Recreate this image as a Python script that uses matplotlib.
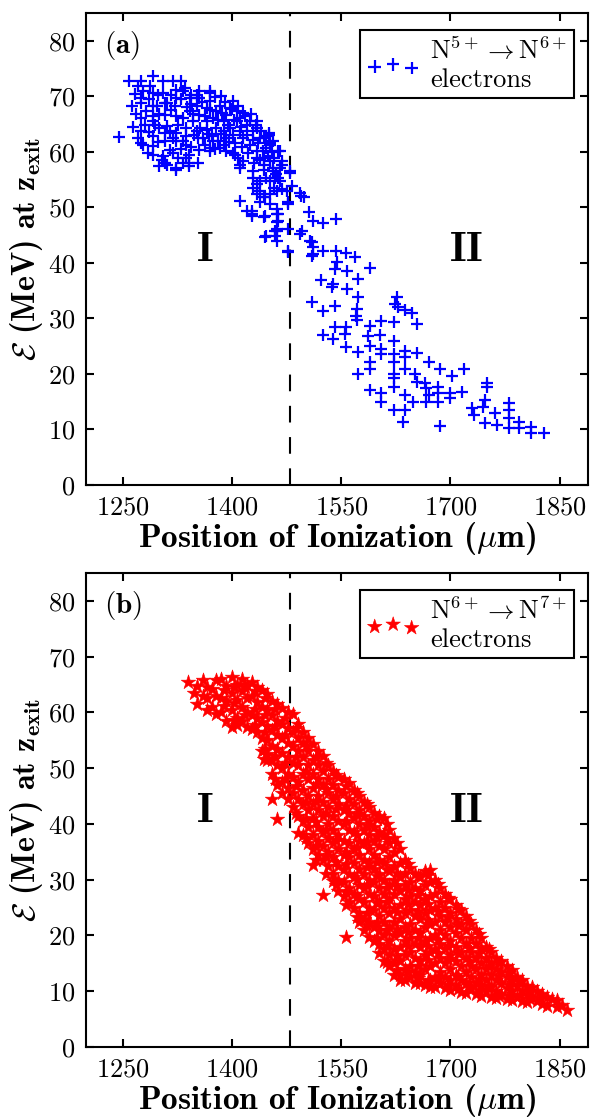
import matplotlib
matplotlib.use("Agg")
import matplotlib.pyplot as plt

plt.rcParams.update({
    "font.family": "serif",
    "font.serif": ["cmr10"],
    "mathtext.fontset": "cm",
    "axes.formatter.use_mathtext": True,
    "axes.unicode_minus": False,
})

# ---------------- data ----------------
xticks = [1250, 1400, 1550, 1700, 1850]
yticks = [0, 10, 20, 30, 40, 50, 60, 70, 80]
boundary_x = 1480

# Panel (a): N5+ -> N6+ electrons (position um, energy MeV)
a_region2 = [
    (1505,49.1),(1511,47.6),(1525,47.1),(1543,47.9),(1496,45.8),(1493,45.2),(1477,41.9),(1509,43.7),
    (1511,42.8),(1509,41.3),(1525,42.2),(1543,42.2),(1557,41.7),(1569,41.0),(1544,40.1),(1541,38.9),
    (1558,38.6),(1590,39.0),(1522,36.9),(1539,36.2),(1537,35.7),(1558,35.3),(1573,37.1),(1573,33.8),
    (1509,32.9),(1525,31.4),(1541,32.3),(1571,31.7),(1570,30.5),(1572,29.7),(1626,33.8),(1624,32.6),
    (1628,32.1),(1638,31.5),(1647,30.9),(1654,29.0),(1605,29.6),(1622,29.3),(1590,28.7),(1603,27.1),
    (1587,26.9),(1557,28.4),(1555,27.2),(1541,28.4),(1539,26.3),(1525,27.1),(1557,24.8),(1573,23.9),
    (1590,25.1),(1605,24.5),(1605,23.6),(1622,26.0),(1622,23.6),(1622,22.1),(1638,24.2),(1638,23.0),
    (1638,20.9),(1654,23.7),(1590,22.1),(1590,20.8),(1573,20.0),(1622,20.0),(1622,19.2),(1622,17.6),
    (1651,20.0),(1654,18.5),(1665,18.3),(1670,22.1),(1686,20.9),(1702,19.6),(1718,20.8),(1667,17.4),
    (1670,16.2),(1667,15.0),(1683,17.6),(1683,16.5),(1683,15.0),(1699,16.5),(1699,15.6),(1716,16.7),
    (1590,17.1),(1605,16.5),(1605,15.0),(1638,16.2),(1649,15.0),(1622,13.5),(1638,13.5),(1635,11.4),
    (1685,10.6),(1750,18.3),(1750,17.6),(1748,15.3),(1745,14.1),(1729,13.8),(1732,12.6),(1748,11.2),
    (1761,12.9),(1764,10.8),(1780,14.7),(1780,13.5),(1780,12.0),(1780,10.2),(1794,11.4),(1794,10.2),
    (1810,10.5),(1810,9.3),(1828,9.4),
]
a_boundary = [
    (1457,53.5),(1475,53.0),(1495,52.1),(1461,48.8),(1461,47.3),(1461,45.8),(1459,44.9),(1477,50.9),
    (1450,63.1),(1452,61.6),(1463,60.1),(1479,56.5),(1477,50.6),(1493,52.6),(1498,51.9),(1507,44.0),
    (1511,41.6),(1410,51.2),(1427,49.4),(1427,48.5),(1445,48.5),(1447,44.9),(1461,49.7),(1463,48.8),
    (1463,47.6),(1461,46.1),(1429,53.5),(1434,52.4),(1438,50.9),(1445,51.8),(1452,52.4),(1468,53.3),
    (1463,55.3),(1466,57.1),(1468,58.3),(1408,58.9),(1410,57.7),(1401,59.8),(1388,61.3),(1429,56.5),
    (1438,54.7),(1452,54.7),(1456,56.5),(1443,57.7),(1434,58.9),(1420,49.4),(1427,48.8),(1443,48.2),
    (1445,44.6),(1459,45.8),(1461,44.0),(1477,46.1),(1477,42.2),(1466,60.1),(1468,57.7),(1479,56.2),
    (1482,53.8),(1404,59.5),(1415,58.3),(1410,57.1),(1429,55.3),(1434,54.2),(1438,53.0),(1443,51.8),
    (1452,50.6),(1461,53.0),(1466,54.7),(1459,55.3),(1447,55.3),
]
a_region1 = [
    (1258,72.8),(1275,72.8),(1291,73.6),(1305,72.7),(1319,72.7),(1330,72.8),(1271,71.8),(1287,71.8),
    (1278,70.9),(1291,70.6),(1275,69.7),(1275,68.8),(1305,70.6),(1323,71.2),(1335,71.5),(1344,70.3),
    (1355,69.7),(1369,70.6),(1291,68.3),(1307,68.8),(1321,68.3),(1275,66.1),(1291,66.4),(1307,66.7),
    (1323,66.4),(1280,64.9),(1294,64.9),(1310,64.6),(1326,64.9),(1244,62.6),(1275,63.7),(1275,61.6),
    (1291,62.8),(1291,61.0),(1307,63.4),(1307,61.9),(1323,63.4),(1323,61.9),(1291,59.5),(1305,59.2),
    (1307,58.0),(1326,58.9),(1340,59.5),(1340,58.0),(1323,57.1),(1337,61.3),(1355,60.4),(1369,60.7),
    (1353,62.5),(1355,70.9),(1369,70.9),(1385,70.0),(1401,69.1),(1415,67.0),(1434,65.5),(1450,63.4),
    (1310,57.7),(1323,56.8),(1340,57.4),(1353,58.0),(1337,58.9),(1278,61.3),(1303,58.6),(1369,60.1),
    (1392,62.5),(1415,62.5),(1424,61.3),(1434,60.1),(1443,58.9),(1452,61.3),(1443,62.5),(1429,63.7),
    (1420,64.9),(1406,65.5),(1397,64.3),(1388,63.7),(1378,64.3),(1365,65.5),(1355,66.7),(1342,67.3),
    (1333,66.1),(1314,63.7),(1300,64.3),(1291,65.5),(1282,67.3),(1296,68.3),(1310,68.8),(1323,69.7),
    (1342,69.7),(1351,68.3),(1365,67.9),(1378,67.3),(1392,66.7),(1406,67.3),(1369,69.1),(1383,68.3),
    (1397,67.9),(1410,66.1),(1424,65.5),(1434,64.3),(1438,62.5),(1447,60.7),(1452,58.3),(1456,57.1),
    (1374,66.1),(1388,65.5),(1401,63.0),(1410,63.7),(1346,65.5),(1337,64.3),(1351,63.7),(1360,62.5),
    (1374,61.9),(1383,60.7),(1392,60.1),(1333,61.9),(1319,62.5),
]
a_core = [
    (1330,69.5),(1338,68.0),(1346,66.8),(1352,70.2),(1358,68.9),(1362,66.5),(1366,64.0),(1370,67.5),
    (1372,62.8),(1376,69.8),(1380,65.8),(1384,63.2),(1386,67.0),(1390,69.0),(1394,64.8),(1396,61.8),
    (1400,67.8),(1402,65.8),(1404,61.5),(1408,68.3),(1412,64.5),(1414,60.8),(1418,66.5),(1420,63.0),
    (1422,59.8),(1426,66.8),(1428,62.2),(1430,58.0),(1432,64.8),(1436,61.5),(1438,58.5),(1440,63.8),
    (1442,60.2),(1444,56.8),(1446,62.8),(1449,59.2),(1454,60.0),(1456,62.0),(1458,58.8),(1460,56.0),
    (1336,62.8),(1344,60.8),(1348,63.0),(1356,64.3),(1362,61.2),(1368,63.2),(1376,60.5),(1380,62.0),
    (1344,68.6),(1316,67.5),(1300,66.8),(1286,63.5),(1298,61.8),(1314,60.3),(1330,60.5),(1286,69.5),
    (1298,70.3),(1316,70.2),(1332,71.0),(1266,70.5),(1262,68.2),(1268,66.8),(1264,64.5),(1270,62.5),
    (1284,59.8),(1300,57.5),(1318,59.8),(1332,58.0),
]

# Panel (b): N6+ -> N7+ electrons (position um, energy MeV)
b_region1 = [
    (1339,65.5),(1347,63.5),(1352,61.5),(1352,64.8),(1360,63.0),(1360,65.8),(1365,60.5),(1365,62.5),
    (1372,64.2),(1372,61.0),(1378,65.8),(1378,63.0),(1378,59.8),(1385,66.0),(1385,62.5),(1385,60.0),
    (1392,64.8),(1392,62.0),(1392,58.5),(1399,66.3),(1399,63.5),(1399,60.5),(1399,57.4),
    (1406,65.0),(1406,62.2),(1406,59.0),(1406,57.8),(1413,66.0),(1413,63.8),(1413,61.0),(1413,58.5),
    (1420,65.0),(1420,62.5),(1420,60.0),(1420,57.3),(1427,65.4),(1427,63.0),(1427,59.5),(1427,57.0),
    (1434,64.5),(1434,61.8),(1434,59.0),(1434,56.5),(1441,64.0),(1441,61.0),(1441,58.2),(1441,55.5),
    (1441,53.0),(1448,63.3),(1448,60.5),(1448,57.5),(1448,55.0),(1448,52.5),(1448,51.5),
    (1455,62.0),(1455,59.5),(1455,56.8),(1455,54.0),(1455,51.5),(1455,49.0),(1455,44.4),(1461,40.8),
    (1462,61.5),(1462,58.5),(1462,56.0),(1462,53.5),(1462,50.5),(1462,47.0),
    (1469,60.8),(1469,58.0),(1469,55.5),(1469,52.8),(1469,50.0),(1469,47.5),(1469,45.5),
    (1476,60.0),(1476,57.2),(1476,54.5),(1476,52.0),(1476,49.0),(1476,46.5),(1476,44.4),
]
b_region2 = [
    (1483,59.7),(1483,56.5),(1483,54.0),(1483,51.0),(1483,48.5),(1483,45.5),(1483,43.0),
    (1490,58.0),(1490,55.5),(1490,53.0),(1490,50.5),(1490,47.5),(1490,44.5),(1490,41.5),(1490,38.4),
    (1497,56.4),(1497,54.5),(1497,52.0),(1497,49.0),(1497,46.0),(1497,43.5),(1497,40.5),(1497,38.0),
    (1504,55.5),(1504,53.0),(1504,50.5),(1504,48.0),(1504,45.0),(1504,42.5),(1504,39.5),(1504,36.5),
    (1511,54.3),(1511,51.5),(1511,49.0),(1511,46.5),(1511,43.5),(1511,41.0),(1511,38.0),(1511,35.5),
    (1511,32.7),(1518,53.0),(1518,50.5),(1518,48.0),(1518,45.0),(1518,42.5),(1518,39.5),(1518,37.0),
    (1518,34.5),(1525,52.2),(1525,49.5),(1525,47.0),(1525,44.0),(1525,41.5),(1525,38.5),(1525,36.0),
    (1525,33.5),(1525,27.3),(1532,50.5),(1532,48.0),(1532,45.5),(1532,43.0),(1532,40.0),(1532,37.5),
    (1532,35.0),(1532,32.5),(1539,49.5),(1539,47.0),(1539,44.5),(1539,41.5),(1539,39.0),(1539,36.5),
    (1539,34.0),(1539,31.0),(1539,29.7),(1546,48.5),(1546,46.0),(1546,43.5),(1546,40.5),(1546,38.0),
    (1546,35.5),(1546,32.5),(1546,30.0),(1546,28.0),(1553,48.0),(1553,45.5),(1553,42.5),(1553,40.0),
    (1553,37.0),(1553,34.5),(1553,32.0),(1553,29.5),(1553,27.0),(1557,19.8),
    (1560,47.4),(1560,44.5),(1560,42.0),(1560,39.0),(1560,36.5),(1560,34.0),(1560,31.0),(1560,28.5),
    (1560,26.0),(1567,46.0),(1567,43.5),(1567,41.0),(1567,38.5),(1567,35.5),(1567,33.0),(1567,30.5),
    (1567,27.5),(1567,25.0),(1574,45.0),(1574,42.5),(1574,40.0),(1574,37.0),(1574,34.5),(1574,32.0),
    (1574,29.0),(1574,26.5),(1574,24.0),(1574,22.5),(1581,44.0),(1581,41.5),(1581,39.0),(1581,36.5),
    (1581,33.5),(1581,31.0),(1581,28.5),(1581,26.0),(1581,23.0),(1581,21.0),
    (1588,43.0),(1588,40.5),(1588,38.0),(1588,35.5),(1588,33.0),(1588,30.0),(1588,27.5),(1588,25.0),
    (1588,22.5),(1588,19.8),(1595,42.0),(1595,39.5),(1595,37.0),(1595,34.5),(1595,32.0),(1595,29.5),
    (1595,27.0),(1595,24.5),(1595,21.5),(1595,19.0),
    (1602,41.4),(1602,38.5),(1602,36.0),(1602,33.5),(1602,31.0),(1602,28.5),(1602,26.0),(1602,23.5),
    (1602,21.0),(1602,18.5),(1602,16.8),(1609,41.0),(1609,38.0),(1609,35.5),(1609,33.0),(1609,30.0),
    (1609,27.5),(1609,25.0),(1609,22.5),(1609,20.0),(1609,17.5),(1609,15.5),
    (1616,39.0),(1616,36.5),(1616,34.0),(1616,31.5),(1616,29.0),(1616,26.5),(1616,24.0),(1616,21.5),
    (1616,19.0),(1616,16.5),(1616,14.5),(1623,37.5),(1623,35.0),(1623,32.5),(1623,30.0),(1623,27.5),
    (1623,25.0),(1623,22.5),(1623,20.0),(1623,17.5),(1623,15.0),(1623,13.0),
    (1630,35.5),(1630,33.0),(1630,30.5),(1630,28.0),(1630,25.5),(1630,23.0),(1630,20.5),(1630,18.0),
    (1630,15.5),(1630,13.0),(1630,12.0),(1637,33.5),(1637,31.0),(1637,29.0),(1637,26.5),(1637,24.0),
    (1637,21.5),(1637,19.0),(1637,16.5),(1637,14.0),(1637,12.0),
]
b_region3 = [
    (1644,32.1),(1644,29.5),(1644,27.0),(1644,24.5),(1644,22.0),(1644,19.5),(1644,17.0),(1644,14.5),
    (1644,12.5),(1651,31.0),(1651,28.5),(1651,26.0),(1651,23.5),(1651,21.0),(1651,18.5),(1651,16.0),
    (1651,13.5),(1651,11.5),(1658,30.5),(1658,28.0),(1658,25.5),(1658,23.0),(1658,20.5),(1658,18.0),
    (1658,15.5),(1658,13.0),(1658,11.5),(1665,31.5),(1665,29.0),(1665,26.5),(1665,24.0),(1665,21.5),
    (1665,19.0),(1665,16.5),(1665,14.0),(1665,11.2),(1672,31.8),(1672,29.5),(1672,27.0),(1672,24.5),
    (1672,22.0),(1672,19.5),(1672,17.0),(1672,14.5),(1672,12.0),(1672,10.8),
    (1679,30.0),(1679,27.5),(1679,25.0),(1679,22.5),(1679,20.0),(1679,17.5),(1679,15.0),(1679,12.5),
    (1679,10.8),(1686,28.5),(1686,26.0),(1686,23.5),(1686,21.0),(1686,18.5),(1686,16.0),(1686,13.5),
    (1686,11.5),(1693,27.5),(1693,25.0),(1693,22.5),(1693,20.0),(1693,17.5),(1693,15.0),(1693,12.5),
    (1693,10.5),(1700,26.5),(1700,24.0),(1700,21.5),(1700,19.0),(1700,16.5),(1700,14.0),(1700,12.0),
    (1700,10.2),(1707,25.5),(1707,23.0),(1707,20.5),(1707,18.0),(1707,15.5),(1707,13.0),(1707,11.0),
    (1714,24.6),(1714,22.0),(1714,19.5),(1714,17.0),(1714,14.5),(1714,12.0),(1714,9.8),
    (1721,23.5),(1721,21.0),(1721,18.5),(1721,16.0),(1721,13.5),(1721,11.5),(1721,9.6),
    (1728,22.0),(1728,19.5),(1728,17.0),(1728,14.5),(1728,12.5),(1728,10.5),
    (1735,21.0),(1735,18.5),(1735,16.0),(1735,14.0),(1735,11.5),(1735,9.5),
    (1742,19.5),(1742,17.5),(1742,15.0),(1742,13.0),(1742,11.0),(1742,9.2),
    (1749,18.0),(1749,16.0),(1749,14.0),(1749,12.0),(1749,10.0),
    (1756,17.0),(1756,15.0),(1756,13.0),(1756,11.0),(1756,9.0),
    (1763,16.0),(1763,14.0),(1763,12.0),(1763,10.0),(1763,8.8),
    (1770,15.5),(1770,13.5),(1770,11.5),(1770,9.5),(1777,14.5),(1777,12.5),(1777,10.5),(1777,8.6),
    (1784,13.8),(1784,12.0),(1784,10.0),(1784,8.4),(1791,12.5),(1791,11.0),(1791,9.0),
    (1798,12.0),(1798,10.0),(1798,8.3),(1805,11.0),(1805,9.5),(1805,8.0),(1812,10.8),(1812,9.0),
    (1819,10.0),(1819,8.2),(1826,9.5),(1826,7.8),(1833,9.0),(1833,7.4),(1840,8.6),(1846,8.4),
    (1846,7.2),(1853,7.5),(1860,6.6),
]
b_fill = [
    (1365,64.5),(1388,64.0),(1388,61.2),(1403,64.5),(1403,61.6),(1403,58.6),(1417,64.5),(1417,59.6),
    (1431,63.8),(1431,60.6),(1431,57.8),(1445,62.5),(1445,59.5),(1445,56.5),(1445,53.5),(1443,51.6),
    (1459,60.6),(1459,57.6),(1459,52.2),(1459,48.0),(1473,59.0),(1473,56.0),(1473,51.0),(1473,48.0),
    (1487,57.2),(1487,52.0),(1487,46.8),(1487,42.0),(1501,54.0),(1501,49.5),(1501,44.0),(1501,40.8),
    (1501,37.5),(1515,52.0),(1515,47.2),(1515,44.2),(1515,40.3),(1515,36.0),(1515,33.5),
    (1529,51.0),(1529,46.2),(1529,42.0),(1529,39.0),(1529,34.2),(1529,31.0),
    (1543,48.8),(1543,45.0),(1543,42.6),(1543,37.2),(1543,33.2),(1543,29.0),
    (1557,46.8),(1557,43.2),(1557,40.5),(1557,35.0),(1557,32.8),(1557,27.8),(1557,25.5),
    (1571,45.5),(1571,41.8),(1571,38.0),(1571,35.8),(1571,30.2),(1571,27.0),(1571,23.4),
    (1585,43.6),(1585,39.8),(1585,36.8),(1585,32.2),(1585,29.0),(1585,24.0),(1585,21.8),
    (1599,40.8),(1599,37.8),(1599,33.2),(1599,30.6),(1599,25.8),(1599,22.3),(1599,19.6),
    (1613,40.0),(1613,37.3),(1613,32.0),(1613,28.5),(1613,26.0),(1613,21.0),(1613,18.2),(1613,15.2),
    (1627,36.5),(1627,31.2),(1627,28.9),(1627,24.2),(1627,21.2),(1627,16.4),(1627,13.8),
    (1641,32.8),(1641,28.2),(1641,25.7),(1641,20.6),(1641,18.2),(1641,13.5),
    (1655,30.6),(1655,27.2),(1655,24.4),(1655,19.6),(1655,14.6),(1655,12.4),
    (1669,30.8),(1669,25.6),(1669,22.8),(1669,18.2),(1669,15.6),(1669,11.8),
    (1683,29.2),(1683,24.4),(1683,19.2),(1683,16.8),(1683,12.2),
    (1697,26.8),(1697,23.4),(1697,18.2),(1697,15.8),(1697,11.2),
    (1711,24.8),(1711,21.8),(1711,16.8),(1711,12.5),(1711,10.4),
    (1725,22.6),(1725,17.8),(1725,15.4),(1725,11.0),(1739,20.2),(1739,16.8),(1739,12.2),(1739,10.2),
    (1753,17.6),(1753,14.6),(1753,10.6),(1767,15.0),(1767,12.8),(1767,9.2),
    (1781,13.2),(1781,11.2),(1781,9.2),(1795,11.6),(1795,9.4),(1809,10.0),(1809,8.6),(1823,8.8),
]

a_pts = a_region1 + a_core + a_boundary + a_region2
b_pts = b_region1 + b_fill + b_region2 + b_region3
a_x = [p[0] for p in a_pts]; a_y = [p[1] for p in a_pts]
b_x = [p[0] for p in b_pts]; b_y = [p[1] for p in b_pts]

label_a = r"N$^{5+}\rightarrow$N$^{6+}$" + "\nelectrons"
label_b = r"N$^{6+}\rightarrow$N$^{7+}$" + "\nelectrons"

# ---------------- figure ----------------
W, H = 600, 1117
fig = plt.figure(figsize=(W / 100, H / 100), dpi=100)
ax1 = fig.add_axes([86 / W, 1 - 485 / H, 502 / W, 472 / H])
ax2 = fig.add_axes([86 / W, 1 - 1047 / H, 502 / W, 474 / H])

ax1.scatter(a_x, a_y, marker="+", s=80, c="blue", linewidths=1.6, label=label_a, zorder=3)
ax2.scatter(b_x, b_y, marker="*", s=120, c="red", edgecolors="red", linewidths=0.4,
            label=label_b, zorder=3)

xlab = r"Position of Ionization ($\mu$m)"
ylab = r"$\mathcal{E}$ (MeV) at z$_{\mathbf{exit}}$"

for ax, tag in [(ax1, "a"), (ax2, "b")]:
    ax.set_xlim(1199, 1889)
    ax.set_ylim(0, 85)
    ax.set_xticks(xticks)
    ax.set_yticks(yticks)
    ax.axvline(boundary_x, color="black", lw=1.5, dashes=(8, 7), zorder=2)
    for s in ax.spines.values():
        s.set_linewidth(1.5)
    ax.tick_params(direction="in", length=6, width=1.5, top=True, right=True,
                   labelsize=19, pad=8)
    ax.set_xlabel(xlab, fontsize=24, fontfamily="cmb10", labelpad=0)
    ax.set_ylabel(ylab, fontsize=23, fontfamily="cmb10", labelpad=2)
    ax.text(0.035, 0.932, r"($\mathbf{%s}$)" % tag, transform=ax.transAxes,
            fontsize=21, ha="left", va="center")
    ax.text(1362, 42.3, r"$\mathbf{I}$", fontsize=30, ha="center", va="center")
    ax.text(1722, 42.3, r"$\mathbf{II}$", fontsize=30, ha="center", va="center")
    leg = ax.legend(loc="upper right", bbox_to_anchor=(0.972, 0.964), borderaxespad=0,
                    fontsize=19, scatterpoints=3, fancybox=False, framealpha=1,
                    edgecolor="black", handletextpad=0.4, borderpad=0.25,
                    handlelength=2.0, labelspacing=0.2)
    leg.get_frame().set_linewidth(1.5)

fig.savefig("out.png", dpi=100)
